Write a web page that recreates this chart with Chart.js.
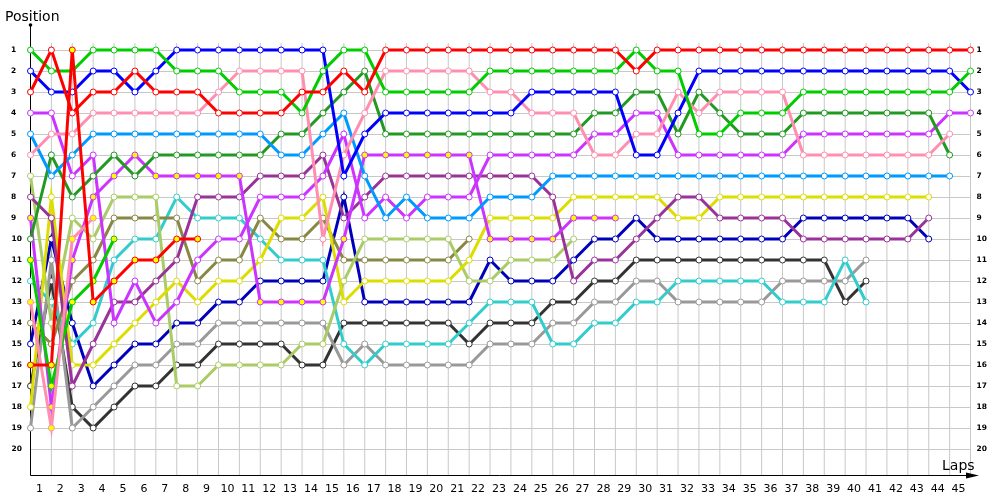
<!DOCTYPE html>
<html>
<head>
<meta charset="utf-8">
<script src="https://cdn.jsdelivr.net/npm/chart.js@4/dist/chart.umd.min.js"></script>
<style>
html,body{margin:0;padding:0;background:#fff;}
#wrap{width:1000px;height:500px;position:relative;}
</style>
</head>
<body>
<div id="wrap"><canvas id="c"></canvas></div>
<script>
// ---- tick labels ----
const lapLabels = ['1','2','3','4','5','6','7','8','9','10','11','12','13','14','15','16','17','18','19','20',
  '21','22','23','24','25','26','27','28','29','30','31','32','33','34','35','36','37','38','39','40',
  '41','42','43','44','45'];
const positionLabels = ['1','2','3','4','5','6','7','8','9','10','11','12','13','14','15','16','17','18','19','20'];

// ---- position per lap (index = lap, 0 = grid) ----
const red        = [3,1,4,3,3,2,3,3,3,4, 4,4,4,3,3,2,3,1,1,1, 1,1,1,1,1,1,1,1,1,2, 1,1,1,1,1,1,1,1,1,1, 1,1,1,1,1,1];
const redB       = [16,16,1,13,12,11,11,10,10];
const green      = [1,2,2,1,1,1,1,2,2,2, 3,3,3,4,2,1,1,3,3,3, 3,3,2,2,2,2,2,2,2,1, 2,2,5,5,4,4,4,3,3,3, 3,3,3,3,3,2];
const greenB     = [11,17,13,12,10];
const blue       = [2,3,3,2,2,3,2,1,1,1, 1,1,1,1,1,7,5,4,4,4, 4,4,4,4,3,3,3,3,3,6, 6,4,2,2,2,2,2,2,2,2, 2,2,2,2,2,3];
const pink       = [6,5,5,4,4,4,4,4,4,3, 2,2,2,2,10,6,4,2,2,2, 2,2,3,3,4,4,4,6,6,5, 5,3,4,3,3,3,3,6,6,6, 6,6,6,6,5];
const pinkB      = [13,19,10,9];
const lightBlue  = [5,7,6,5,5,5,5,5,5,5, 5,5,6,6,5,4,7,9,8,9, 9,9,8,8,8,7,7,7,7,7, 7,7,7,7,7,7,7,7,7,7, 7,7,7,7,7];
const darkGreen  = [10,6,8,7,6,7,6,6,6,6, 6,6,5,5,4,3,2,5,5,5, 5,5,5,5,5,5,5,4,4,3, 3,5,3,4,5,5,5,4,4,4, 4,4,4,4,6];
const magenta    = [4,4,7,6,14,12,14,13,11,10, 10,8,8,8,7,5,9,8,9,8, 8,8,6,6,6,6,6,5,5,4, 4,6,6,6,6,6,6,5,5,5, 5,5,5,5,4,4];
const magentaB   = [9,18,11,8,7,6,7,7,7,7, 7,13,13,13,13,10,6,6,6,6, 6,6,10,10,10,10,9,9,9];
const darkPurple = [8,9,17,15,13,13,12,11,8,8, 8,7,7,7,6,9,8,7,7,7, 7,7,7,7,7,8,12,11,11,10, 9,8,8,9,9,9,9,10,10,10, 10,10,10,9];
const yellow     = [18,8,16,16,15,14,13,12,13,12, 12,11,9,9,8,13,12,12,12,12, 12,11,9,9,9,9,8,8,8,8, 8,9,9,8,8,8,8,8,8,8, 8,8,8,8];
const lightOlive = [7,14,9,10,8,8,8,17,17,16, 16,16,16,15,15,12,10,10,10,10, 10,12,12,11,11,11,10];
const olive      = [14,15,12,11,9,9,9,9,12,11, 11,9,10,10,9,11,11,11,11,11, 11,10];
const cyan       = [12,13,15,14,11,10,10,8,9,9, 9,10,11,11,11,15,16,15,15,15, 15,14,13,13,13,15,15,14,14,13, 13,12,12,12,12,12,13,13,13,11, 13];
const darkBlue   = [15,10,14,17,16,15,15,14,14,13, 13,12,12,12,12,8,13,13,13,13, 13,13,11,12,12,12,11,10,10,9, 10,10,10,10,10,10,10,9,9,9, 9,9,9,10];
const gray       = [19,11,19,18,17,16,16,15,15,14, 14,14,14,14,14,16,15,16,16,16, 16,16,15,15,15,14,14,13,13,12, 12,13,13,13,13,13,12,12,12,12, 11];
const darkGray   = [17,12,18,19,18,17,17,16,16,15, 15,15,15,16,16,14,14,14,14,14, 14,15,14,14,14,13,13,12,12,11, 11,11,11,11,11,11,11,11,11,13, 12];

const series = [
  {name:'red', data:red, color:'#ff0000', fill:'#ffffff'},
  {name:'redB', data:redB, color:'#ff0000', fill:'#ffff00'},
  {name:'pinkB', data:pinkB, color:'#ff8fb0', fill:'#ffff00'},
  {name:'green', data:green, color:'#00cc00', fill:'#ffffff'},
  {name:'greenB', data:greenB, color:'#00cc00', fill:'#ffff00'},
  {name:'blue', data:blue, color:'#0000ff', fill:'#ffffff'},
  {name:'pink', data:pink, color:'#ff8fb0', fill:'#ffffff'},
  {name:'lightBlue', data:lightBlue, color:'#0099ff', fill:'#ffffff'},
  {name:'darkGreen', data:darkGreen, color:'#229922', fill:'#ffffff'},
  {name:'magenta', data:magenta, color:'#cc33ff', fill:'#ffffff'},
  {name:'magentaB', data:magentaB, color:'#cc33ff', fill:'#ffff00'},
  {name:'darkPurple', data:darkPurple, color:'#993399', fill:'#ffffff'},
  {name:'yellow', data:yellow, color:'#dddd00', fill:'#ffffff'},
  {name:'lightOlive', data:lightOlive, color:'#aacc66', fill:'#ffffff'},
  {name:'olive', data:olive, color:'#888844', fill:'#ffffff'},
  {name:'cyan', data:cyan, color:'#33cccc', fill:'#ffffff'},
  {name:'darkBlue', data:darkBlue, color:'#0000bb', fill:'#ffffff'},
  {name:'gray', data:gray, color:'#999999', fill:'#ffffff'},
  {name:'darkGray', data:darkGray, color:'#333333', fill:'#ffffff'}
];

const datasets = series.map(s => ({
  label: s.name,
  data: s.data.map((p, lap) => ({x: lap, y: p})),
  borderColor: s.color,
  backgroundColor: s.fill,
  pointBackgroundColor: s.fill,
  pointBorderColor: s.color,
  borderWidth: 3,
  pointRadius: 3,
  pointBorderWidth: 1,
  tension: 0,
  clip: false
}));

const LAST_LAP = 45;
const LAST_POS = 20;

const framePlugin = {
  id: 'frame',
  beforeDatasetsDraw(chart) {
    const {ctx, chartArea, scales: {x, y}} = chart;
    const axisY = chartArea.bottom;
    const axisX = x.getPixelForValue(0);
    ctx.save();
    // grid
    ctx.strokeStyle = '#c8c8c8';
    ctx.lineWidth = 1;
    ctx.beginPath();
    const gridTop = y.getPixelForValue(1) - 7;
    for (let l = 0; l <= LAST_LAP; l++) {
      const px = x.getPixelForValue(l);
      ctx.moveTo(px, gridTop);
      ctx.lineTo(px, axisY);
    }
    for (let p = 1; p <= LAST_POS; p++) {
      const py = Math.round(y.getPixelForValue(p)) + 0.5;
      ctx.moveTo(axisX, py);
      ctx.lineTo(x.getPixelForValue(LAST_LAP), py);
    }
    ctx.stroke();
    // axes
    ctx.strokeStyle = '#000';
    ctx.fillStyle = '#000';
    ctx.beginPath();
    ctx.moveTo(axisX, chartArea.top);
    ctx.lineTo(axisX, axisY);
    ctx.moveTo(axisX, axisY);
    ctx.lineTo(968, axisY);
    ctx.stroke();
    ctx.beginPath();
    ctx.arc(axisX, chartArea.top, 1.8, 0, Math.PI * 2);
    ctx.fill();
    ctx.beginPath();
    ctx.moveTo(979, axisY);
    ctx.lineTo(966, axisY - 3);
    ctx.lineTo(966, axisY + 3);
    ctx.closePath();
    ctx.fill();
    ctx.restore();
  },
  afterDraw(chart) {
    const {ctx, chartArea, scales: {x, y}} = chart;
    ctx.save();
    ctx.fillStyle = '#000';
    // lap labels
    ctx.font = '11px "DejaVu Sans"';
    ctx.textAlign = 'center';
    ctx.textBaseline = 'middle';
    lapLabels.forEach((t, i) => {
      const lap = i + 1;
      const px = (x.getPixelForValue(lap - 1) + x.getPixelForValue(lap)) / 2 - 1.5;
      ctx.fillText(t, px, 489);
    });
    // position labels, both sides
    ctx.font = 'bold 7.5px "DejaVu Sans"';
    ctx.textAlign = 'left';
    positionLabels.forEach((t, i) => {
      const py = y.getPixelForValue(i + 1);
      ctx.fillText(t, t.length > 1 ? 11.5 : 11, py);
      ctx.fillText(t, 976.5, py);
    });
    // axis titles
    ctx.font = '14px "DejaVu Sans"';
    ctx.textBaseline = 'alphabetic';
    ctx.fillText('Position', 5, 21);
    ctx.fillText('Laps', 942, 470);
    ctx.restore();
  }
};

const PAD_LEFT = 30.5, PAD_TOP = 25, PAD_BOTTOM = 24.5;
const LAP_W = 940 / 45;
const X_MAX = 46;
const PAD_RIGHT = 1000 - (PAD_LEFT + X_MAX * LAP_W);

new Chart(document.getElementById('c'), {
  type: 'line',
  data: { datasets },
  options: {
    responsive: true,
    maintainAspectRatio: false,
    animation: false,
    events: [],
    layout: { padding: { left: PAD_LEFT, right: PAD_RIGHT, top: PAD_TOP, bottom: PAD_BOTTOM } },
    plugins: { legend: { display: false }, tooltip: { enabled: false }, title: { display: false } },
    elements: { line: { borderJoinStyle: 'miter', borderCapStyle: 'butt' } },
    scales: {
      x: { type: 'linear', min: 0, max: X_MAX, display: false },
      y: { type: 'linear', reverse: true, min: 1 - 25 / 21, max: 1 + 425.5 / 21, display: false }
    }
  },
  plugins: [framePlugin]
});
</script>
</body>
</html>
